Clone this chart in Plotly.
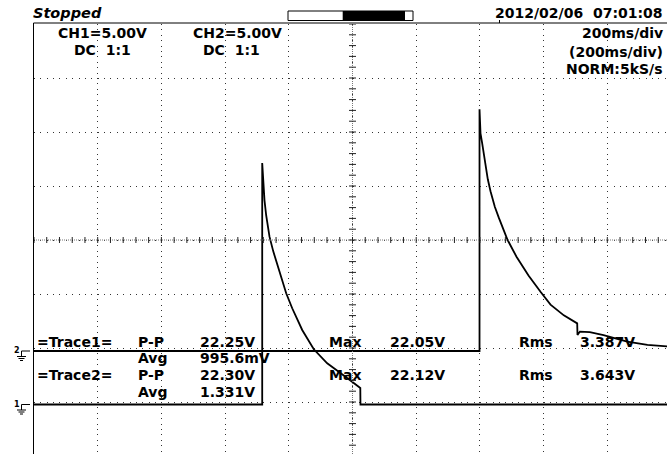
import plotly.graph_objects as go

# ---------------- data ----------------
# CH1 (lower trace, ground marker "1"), time in ms, volts
ch1_time_ms = [0, 716.5, 716.5, 719.6, 723.7, 729.0, 734.1, 739.4, 751.0, 763.6,
               791.8, 810.7, 842.1, 878.5, 920.6, 978.0, 1014.8, 1024.5, 1025.0, 2000]
ch1_volts = [0, 0, 22.36, 20.51, 18.90, 17.50, 16.46, 15.54, 14.20, 12.92,
             10.30, 8.91, 6.90, 5.11, 3.81, 2.57, 1.71, 1.53, 0, 0]

# CH2 (upper trace, ground marker "2")
ch2_time_ms = [0, 1398.8, 1398.8, 1401.9, 1407.2, 1412.3, 1417.6, 1424.8, 1433.3,
               1446.8, 1459.3, 1471.9, 1486.7, 1514.9, 1552.6, 1590.3, 1621.7,
               1663.5, 1705.5, 1706.4, 1714.0, 1745.0, 1788.1, 1862.5, 1926.0, 1989.0]
ch2_volts = [0, 0, 22.38, 20.16, 19.23, 18.20, 17.07, 15.90, 14.80,
             13.36, 12.35, 11.36, 10.30, 8.73, 7.00, 5.49, 4.30,
             3.30, 2.56, 1.48, 1.80, 1.75, 1.48, 0.86, 0.56, 0.42]

# measurement table
trace_labels = ["=Trace1=", "=Trace2="]
pp_values = ["22.25V", "22.30V"]
avg_values = ["995.6mV", "1.331V"]
max_values = ["22.05V", "22.12V"]
rms_values = ["3.387V", "3.643V"]

ch_scale = ["CH1=5.00V", "CH2=5.00V"]
ch_coupling = ["DC\u00a0\u00a01:1", "DC\u00a0\u00a01:1"]
timebase = ["200ms/div", "(200ms/div)", "NORM:5kS/s"]
status_text = "Stopped"
date_text = "2012/02/06\u00a0\u00a007:01:08"

# ---------------- screen geometry ----------------
W, H = 667, 454
L, T = 34, 24                  # plot area left/top in px
PW, PH = W - L, H - T
DIV_X = 63.7                   # px per horizontal division
DIV_Y = 54.0                   # px per vertical division
MS_PER_DIV = 200.0
V_PER_DIV = 5.0
x_max = PW / DIV_X * MS_PER_DIV
y_top = 4.0
y_bot = y_top - PH / DIV_Y
ch1_off = -3.046               # ground position in divisions
ch2_off = -2.056


def px(x):
    return (x - L) / PW


def py(y):
    return 1 - (y - T) / PH


fig = go.Figure()
fig.add_trace(go.Scatter(x=ch1_time_ms, y=ch1_volts, mode="lines", yaxis="y2",
                         line=dict(color="black", width=1.8), hoverinfo="skip",
                         showlegend=False))
fig.add_trace(go.Scatter(x=ch2_time_ms, y=ch2_volts, mode="lines", yaxis="y3",
                         line=dict(color="black", width=1.8), hoverinfo="skip",
                         showlegend=False))

shapes = []
# center crosshair
shapes.append(dict(type="line", xref="x", yref="y", x0=0, x1=x_max, y0=0, y1=0,
                   line=dict(color="#777", width=1, dash="1px,1px")))
shapes.append(dict(type="line", xref="x", yref="y", x0=1000, x1=1000, y0=y_bot, y1=y_top,
                   line=dict(color="#777", width=1, dash="1px,1px")))
k = 0
while k * 40 <= x_max:
    xv = k * 40
    shapes.append(dict(type="line", xref="x", yref="y", x0=xv, x1=xv,
                       y0=-3 / DIV_Y, y1=3 / DIV_Y, line=dict(color="#222", width=1)))
    k += 1
hw = 3.5 / DIV_X * MS_PER_DIV
k = -20
while k <= 20:
    yv = k * 0.2
    if y_bot <= yv <= y_top:
        shapes.append(dict(type="line", xref="x", yref="y", x0=1000 - hw, x1=1000 + hw,
                           y0=yv, y1=yv, line=dict(color="#222", width=1)))
    k += 1

# borders
shapes.append(dict(type="line", xref="paper", yref="paper", x0=px(33.5), x1=1,
                   y0=py(23), y1=py(23), line=dict(color="black", width=1)))
shapes.append(dict(type="line", xref="paper", yref="paper", x0=px(33.5), x1=px(33.5),
                   y0=py(23), y1=0, line=dict(color="black", width=1)))
shapes.append(dict(type="line", xref="paper", yref="paper", x0=px(499.5), x1=px(499.5),
                   y0=py(20), y1=py(23), line=dict(color="black", width=1)))

# progress bar
shapes.append(dict(type="rect", xref="paper", yref="paper", x0=px(288), x1=px(413),
                   y0=py(20.5), y1=py(11), line=dict(color="black", width=1),
                   fillcolor="white"))
shapes.append(dict(type="rect", xref="paper", yref="paper", x0=px(342.7), x1=px(405),
                   y0=py(20.5), y1=py(11), line=dict(color="black", width=0),
                   fillcolor="black"))

# ground markers
for gy in (351, 404.5):
    shapes.append(dict(type="line", xref="paper", yref="paper", x0=px(21.5), x1=px(30),
                       y0=py(gy), y1=py(gy), line=dict(color="black", width=1)))
    shapes.append(dict(type="line", xref="paper", yref="paper", x0=px(21.5), x1=px(21.5),
                       y0=py(gy), y1=py(gy + 5.5), line=dict(color="black", width=1)))
    for dy, half in ((5.5, 4.5), (7.5, 3), (9.5, 1.5)):
        shapes.append(dict(type="line", xref="paper", yref="paper",
                           x0=px(21.5 - half), x1=px(21.5 + half),
                           y0=py(gy + dy), y1=py(gy + dy),
                           line=dict(color="black", width=1)))

FONT = "DejaVu Sans"
ann = []


def text(s, x, y, anchor="left", size=14, style="normal"):
    ann.append(dict(text=s, x=px(x), y=py(y), xref="paper", yref="paper",
                    xanchor=anchor, yanchor="middle", showarrow=False,
                    borderpad=0,
                    font=dict(family=FONT, size=size, color="black",
                              weight="bold", style=style)))


text(status_text, 32, 13, size=14.5, style="italic")
text(date_text, 664, 13, anchor="right")
text(ch_scale[0], 57, 33)
text(ch_scale[1], 192, 33)
text(ch_coupling[0], 73, 50)
text(ch_coupling[1], 202, 50)
text(timebase[0], 664, 33, anchor="right")
text(timebase[1], 664, 52, anchor="right")
text(timebase[2], 664, 69, anchor="right")

row_y = [(341.5, 358.3), (374.5, 391.5)]
for i in range(2):
    y1, y2 = row_y[i]
    text(trace_labels[i], 36, y1)
    text("P-P", 137, y1)
    text(pp_values[i], 199, y1)
    text("Max", 328, y1)
    text(max_values[i], 389, y1)
    text("Rms", 518, y1)
    text(rms_values[i], 579, y1)
    text("Avg", 137, y2)
    text(avg_values[i], 199, y2)

text("2", 17, 350, anchor="center", size=8)
text("1", 17, 404, anchor="center", size=8)

fig.update_layout(
    width=W, height=H,
    margin=dict(l=L, r=0, t=T, b=0, pad=0),
    paper_bgcolor="white", plot_bgcolor="white",
    showlegend=False,
    xaxis=dict(range=[0, x_max], dtick=MS_PER_DIV, tick0=0, showgrid=True,
               gridcolor="#333", gridwidth=1, griddash="1px,4.4px",
               zeroline=False, showticklabels=False, ticks="", showline=False,
               fixedrange=True),
    yaxis=dict(range=[y_bot, y_top], dtick=1, tick0=0, showgrid=True,
               gridcolor="#333", gridwidth=1, griddash="1px,5.37px",
               zeroline=False, showticklabels=False, ticks="", showline=False,
               fixedrange=True),
    yaxis2=dict(range=[(y_bot - ch1_off) * V_PER_DIV, (y_top - ch1_off) * V_PER_DIV],
                overlaying="y", visible=False, fixedrange=True),
    yaxis3=dict(range=[(y_bot - ch2_off) * V_PER_DIV, (y_top - ch2_off) * V_PER_DIV],
                overlaying="y", visible=False, fixedrange=True),
    shapes=shapes,
    annotations=ann,
)

fig.write_html("out.html", config={"displayModeBar": False},
               post_script="document.body.style.margin='0';document.body.style.overflow='hidden';")
